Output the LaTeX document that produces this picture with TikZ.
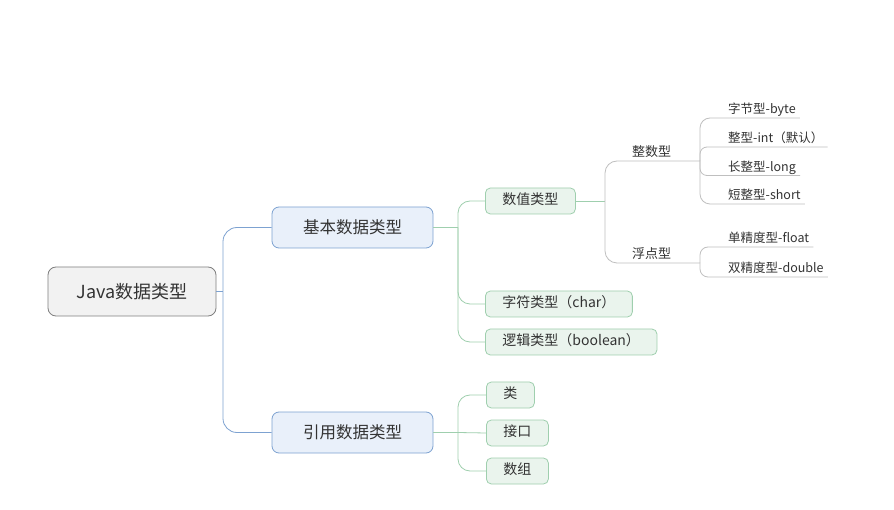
\documentclass[tikz,border=0pt]{standalone}
\usepackage{fontspec}
\setmainfont{Noto Sans CJK SC}
\usetikzlibrary{positioning}
\definecolor{rootfill}{HTML}{F2F2F2}
\definecolor{rootdraw}{HTML}{7F7F7F}
\definecolor{mainfill}{HTML}{E9F0FA}
\definecolor{maindraw}{HTML}{7DA2D1}
\definecolor{subfill}{HTML}{EAF4ED}
\definecolor{subdraw}{HTML}{9FCFAE}
\definecolor{leafline}{HTML}{BFBFBF}
\definecolor{inktext}{HTML}{333333}

\begin{document}
\begin{tikzpicture}[x=1pt, y=-1pt,
    every node/.style={text=inktext},
    rootbox/.style={draw=rootdraw, fill=rootfill, thick, rounded corners=8pt, minimum width=168pt, minimum height=49pt, font=\fontsize{18}{20}\selectfont},
    mainbox/.style={draw=maindraw, fill=mainfill, thick, rounded corners=7pt, minimum width=161pt, minimum height=41pt, font=\fontsize{16.5}{19}\selectfont},
    subbox/.style={draw=subdraw, fill=subfill, thick, rounded corners=5pt, inner xsep=17pt, minimum height=26pt, anchor=west, text height=0.85em, text depth=0.15em, font=\fontsize{14}{16}\selectfont},
    kindtext/.style={anchor=south west, inner xsep=4pt, inner ysep=2pt, text depth=0.2em, font=\fontsize{13}{15}\selectfont},
    leaftext/.style={anchor=south west, inner xsep=4pt, inner ysep=2pt, text depth=0.2em, font=\fontsize{12.5}{14}\selectfont},
    blueline/.style={draw=maindraw, thick},
    greenline/.style={draw=subdraw, thick},
    grayline/.style={draw=leafline, thick}
]
\useasboundingbox[fill=white] (0,0) rectangle (894,510);

% main topics
\node[rootbox] (root) at (132,291.5) {Java数据类型};
\node[mainbox] (basic) at (352.5,227.5) {基本数据类型};
\node[mainbox] (refer) at (352.5,432.5) {引用数据类型};

% sub topics
\node[subbox] (num) at (485,201) {数值类型};
\node[subbox] (chr) at (485,304) {字符类型（char）};
\node[subbox] (bool) at (485,342) {逻辑类型（boolean）};
\node[subbox] (cls) at (486,395) {类};
\node[subbox] (iface) at (486,433) {接口};
\node[subbox] (arr) at (486,471) {数组};

% number kinds
\node[kindtext] (ints) at (628,161) {整数型};
\node[kindtext] (flts) at (628,263) {浮点型};
\node[leaftext] (byte) at (724,118) {字节型-byte};
\node[leaftext] (tint) at (724,147) {整型-int（默认）};
\node[leaftext] (tlong) at (724,175.5) {长整型-long};
\node[leaftext] (tshort) at (724,204) {短整型-short};
\node[leaftext] (single) at (724,247) {单精度型-float};
\node[leaftext] (dbl) at (724,277) {双精度型-double};

% branch points
\coordinate (rj) at (223,291.5);
\coordinate (bj) at (458,227.5);
\coordinate (qj) at (458,432.5);
\coordinate (nj) at (605,201);
\coordinate (ij) at (700,161);
\coordinate (fj) at (700,263);

\draw[blueline] (root.east) -- (rj);
\draw[blueline, rounded corners=14pt] (rj) |- (basic.west);
\draw[blueline, rounded corners=14pt] (rj) |- (refer.west);

\draw[greenline] (basic.east) -- (bj);
\draw[greenline, rounded corners=12pt] (bj) |- (num.west);
\draw[greenline, rounded corners=12pt] (bj) |- (chr.west);
\draw[greenline, rounded corners=12pt] (bj) |- (bool.west);

\draw[greenline] (refer.east) -- (qj);
\draw[greenline, rounded corners=12pt] (qj) |- (cls.west);
\draw[greenline] (qj) -- (iface.west);
\draw[greenline, rounded corners=12pt] (qj) |- (arr.west);

\draw[greenline] (num.east) -- (nj);
\draw[grayline, rounded corners=12pt] (nj) |- (ints.south west) -- (ij);
\draw[grayline, rounded corners=12pt] (nj) |- (flts.south west) -- (fj);

\draw[grayline, rounded corners=10pt] (ij) |- (byte.south west) -- (byte.south east);
\draw[grayline, rounded corners=7pt] (ij) |- (tint.south west) -- (tint.south east);
\draw[grayline, rounded corners=7pt] (ij) |- (tlong.south west) -- (tlong.south east);
\draw[grayline, rounded corners=10pt] (ij) |- (tshort.south west) -- (tshort.south east);
\draw[grayline, rounded corners=8pt] (fj) |- (single.south west) -- (single.south east);
\draw[grayline, rounded corners=8pt] (fj) |- (dbl.south west) -- (dbl.south east);
\end{tikzpicture}
\end{document}
